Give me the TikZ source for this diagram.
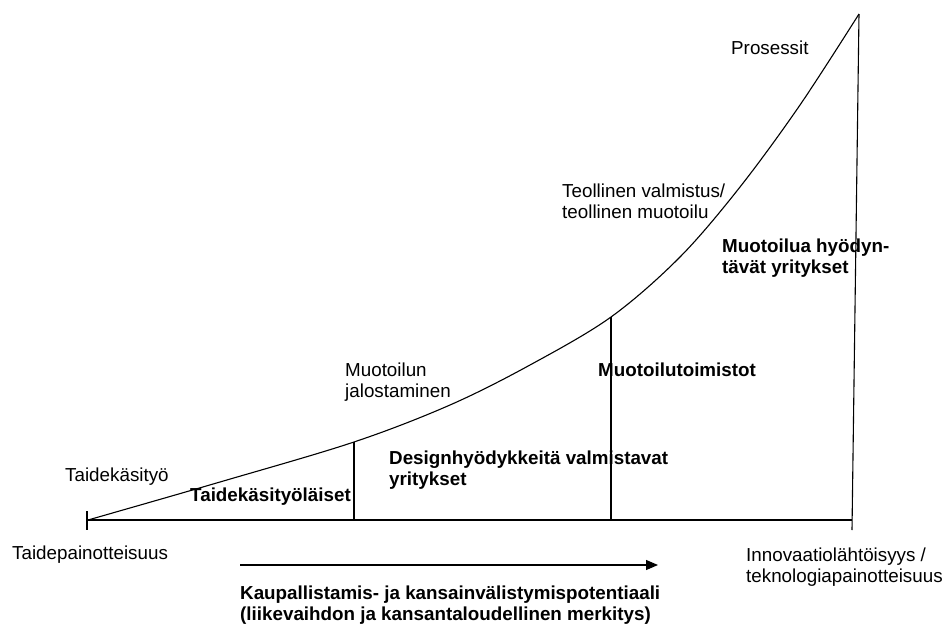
\documentclass[tikz,border=0pt]{standalone}
\usepackage{fontspec}
\setmainfont{Liberation Sans}
\usetikzlibrary{arrows.meta}
\newcommand\twoline[2]{\vtop{\baselineskip=21.5pt\hbox{#1}\hbox{#2}}}
\tikzset{
  lbl/.style={anchor=base west, inner sep=0pt, font=\fontsize{18.8}{21.5}\selectfont},
  blbl/.style={anchor=base west, inner sep=0pt, font=\fontsize{18.8}{21.5}\selectfont\bfseries},
  axis/.style={line width=1.1pt},
  curveline/.style={line width=1.1pt},
  bigarrow/.style={line width=1.1pt, -{Triangle[length=12pt,width=10pt]}}
}
\begin{document}
\begin{tikzpicture}[x=1pt,y=-1pt]
\useasboundingbox (0,0) rectangle (946,624);
% key points
\coordinate (start) at (88,520);
\coordinate (c1) at (220,482);
\coordinate (t1) at (354,442);
\coordinate (c2) at (450,405);
\coordinate (c3) at (530,365);
\coordinate (t2) at (611,317);
\coordinate (c4) at (680,257);
\coordinate (c5) at (740,187);
\coordinate (c6) at (800,105);
\coordinate (peak) at (859,14);
\coordinate (b1) at (354,520);
\coordinate (b2) at (611,520);
\coordinate (bend) at (852,520);
\coordinate (rtick) at (852,530);
\coordinate (ltop) at (87,511);
\coordinate (lbot) at (87,530);
\coordinate (base0) at (87,520);
% curve
\draw[curveline] plot[smooth, tension=0.55] coordinates {(start) (c1) (t1) (c2) (c3) (t2) (c4) (c5) (c6) (peak)};
% axes and dividers
\draw[axis] (ltop) -- (lbot);
\draw[axis] (base0) -- (bend);
\draw[axis] (peak) -- (rtick);
\draw[axis] (t1) -- (b1);
\draw[axis] (t2) -- (b2);
% arrow
\coordinate (a0) at (240,565);
\coordinate (a1) at (658,565);
\draw[bigarrow] (a0) -- (a1);
% labels
\node[lbl] (prosessit) at (731,54) {Prosessit};
\node[lbl] (teollinen) at (562,197) {\twoline{Teollinen valmistus/}{teollinen muotoilu}};
\node[blbl] (hyodyntavat) at (722,252) {\twoline{Muotoilua hyödyn-}{tävät yritykset}};
\node[blbl] (toimistot) at (598,376) {Muotoilutoimistot};
\node[lbl] (jalostaminen) at (345,376) {\twoline{Muotoilun}{jalostaminen}};
\node[blbl] (design) at (389,464) {\twoline{Designhyödykkeitä valmistavat}{yritykset}};
\node[lbl] (taidekasityo) at (65,481) {Taidekäsityö};
\node[blbl] (taidekasityolaiset) at (190,501) {Taidekäsityöläiset};
\node[lbl] (taidepaino) at (12,559) {Taidepainotteisuus};
\node[lbl] (innovaatio) at (746,561) {\twoline{Innovaatiolähtöisyys /}{teknologiapainotteisuus}};
\node[blbl] (kaupallistamis) at (240,599) {\twoline{Kaupallistamis- ja kansainvälistymispotentiaali}{(liikevaihdon ja kansantaloudellinen merkitys)}};
\end{tikzpicture}
\end{document}
